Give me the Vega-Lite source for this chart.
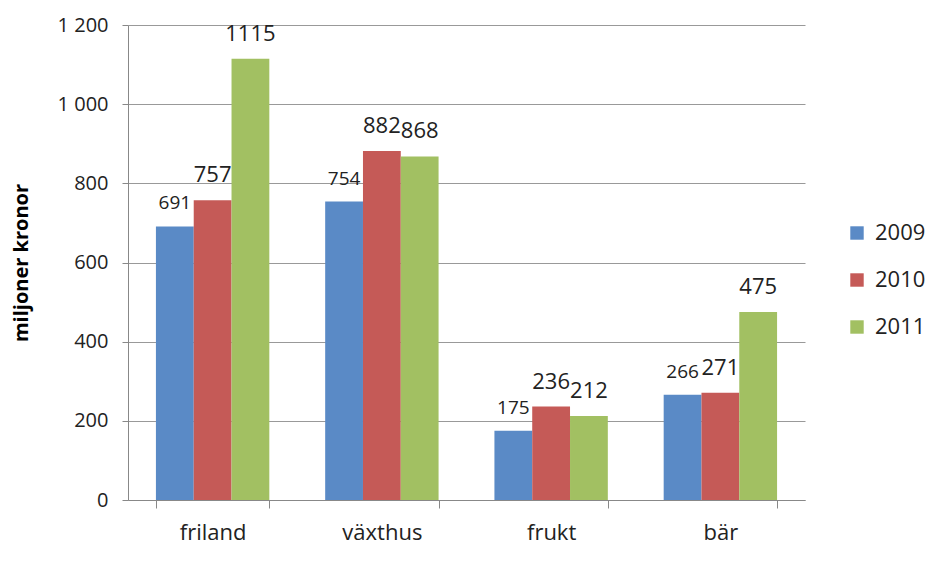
{
  "$schema": "https://vega.github.io/schema/vega-lite/v6.json",
  "width": 677,
  "height": 475,
  "autosize": "none",
  "padding": {"left": 128, "top": 25, "right": 133, "bottom": 63},
  "background": "white",
  "config": {
    "locale": {"number": {"decimal": ",", "thousands": " ", "grouping": [3], "currency": ["", " kr"]}},
    "view": {"stroke": null},
    "font": "Open Sans"
  },
  "data": {
    "values": [
      {"kategori": "friland", "år": "2009", "värde": 691},
      {"kategori": "friland", "år": "2010", "värde": 757},
      {"kategori": "friland", "år": "2011", "värde": 1115},
      {"kategori": "växthus", "år": "2009", "värde": 754},
      {"kategori": "växthus", "år": "2010", "värde": 882},
      {"kategori": "växthus", "år": "2011", "värde": 868},
      {"kategori": "frukt", "år": "2009", "värde": 175},
      {"kategori": "frukt", "år": "2010", "värde": 236},
      {"kategori": "frukt", "år": "2011", "värde": 212},
      {"kategori": "bär", "år": "2009", "värde": 266},
      {"kategori": "bär", "år": "2010", "värde": 271},
      {"kategori": "bär", "år": "2011", "värde": 475}
    ]
  },
  "encoding": {
    "x": {
      "field": "kategori", "type": "nominal", "sort": ["friland", "växthus", "frukt", "bär"],
      "scale": {"paddingInner": 0.33, "paddingOuter": 0.165},
      "axis": {
        "title": null, "labelAngle": 0, "labelFontSize": 22, "labelColor": "#222",
        "labelPadding": 14, "tickBand": "extent", "tickSize": 8, "tickColor": "#888",
        "domainColor": "#888", "labelFont": "Open Sans"
      }
    },
    "xOffset": {"field": "år", "type": "nominal", "scale": {"paddingInner": 0, "paddingOuter": 0}},
    "y": {
      "field": "värde", "type": "quantitative",
      "scale": {"domain": [0, 1200], "nice": false},
      "axis": {
        "title": "miljoner kronor", "titleFontSize": 20, "titleFontWeight": "bold", "titleColor": "#000",
        "titlePadding": 26, "values": [0, 200, 400, 600, 800, 1000, 1200], "format": ",d",
        "labelFontSize": 20, "labelColor": "#222", "labelPadding": 14, "tickSize": 6,
        "tickColor": "#888", "domainColor": "#888", "gridColor": "#999", "labelFont": "Open Sans"
      }
    }
  },
  "layer": [
    {
      "mark": {"type": "bar"},
      "encoding": {
        "color": {
          "field": "år", "type": "nominal",
          "scale": {"domain": ["2009", "2010", "2011"], "range": ["#5A8AC6", "#C55A57", "#A2C062"]},
          "legend": {
            "title": null, "orient": "none", "legendX": 718, "legendY": 197,
            "symbolType": "square", "symbolSize": 180, "labelFontSize": 22, "labelColor": "#222",
            "rowPadding": 25, "symbolStrokeWidth": 0, "labelOffset": 7, "labelFont": "Open Sans"
          }
        }
      }
    },
    {
      "transform": [{"filter": "datum['år'] == '2009'"}],
      "mark": {"type": "text", "baseline": "alphabetic", "dy": -17, "color": "#222", "fontSize": 19},
      "encoding": {
        "text": {"field": "värde", "type": "quantitative"}
      }
    },
    {
      "transform": [{"filter": "datum['år'] != '2009'"}],
      "mark": {"type": "text", "baseline": "alphabetic", "dy": -18, "color": "#222", "fontSize": 22},
      "encoding": {
        "text": {"field": "värde", "type": "quantitative"}
      }
    }
  ]
}
